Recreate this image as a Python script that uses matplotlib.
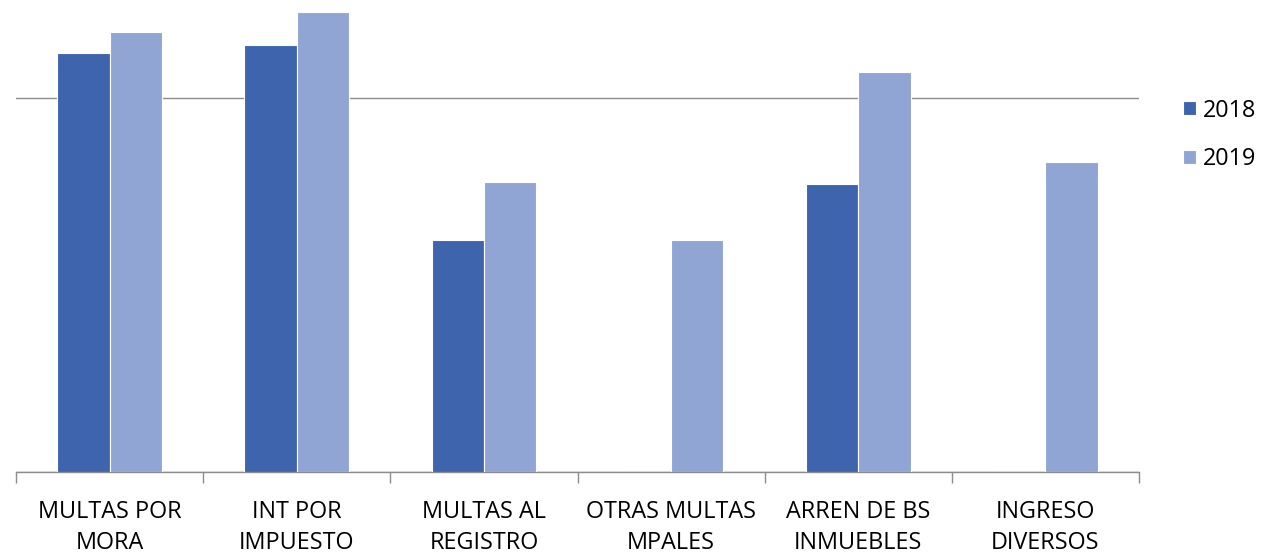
import numpy as np
import matplotlib.pyplot as plt

# values (gridline = 100)
categories = ['MULTAS POR\nMORA', 'INT POR\nIMPUESTO', 'MULTAS AL\nREGISTRO',
              'OTRAS MULTAS\nMPALES', 'ARREN DE BS\nINMUEBLES', 'INGRESO\nDIVERSOS']
values_2018 = [112.0, 114.2, 62.0, 0.0, 77.0, 0.0]
values_2019 = [117.6, 123.0, 77.5, 62.0, 107.0, 82.9]

plt.rcParams['font.family'] = ['Open Sans', 'DejaVu Sans']

fig = plt.figure(figsize=(12.63, 5.55), dpi=100)
ax = fig.add_axes([16 / 1263, 83 / 555, 1123 / 1263, 472 / 555])

x = np.arange(len(categories))
w = 0.28
ax.bar(x - w / 2, values_2018, w, color='#3D64AD', edgecolor='white', linewidth=0.8, label='2018', zorder=3)
ax.bar(x + w / 2, values_2019, w, color='#91A5D5', edgecolor='white', linewidth=0.8, label='2019', zorder=3)

ax.set_xlim(-0.5, len(categories) - 0.5)
ax.set_ylim(0, 126.2)
ax.set_yticks([0, 100])
ax.yaxis.grid(True, color='#8C8C8C', linewidth=1.0, zorder=0)
ax.tick_params(axis='y', left=False, labelleft=False)

ax.set_xticks(x)
ax.set_xticklabels(categories, fontsize=16.8, linespacing=1.42)
ax.tick_params(axis='x', which='major', length=0, pad=20)
ax.set_xticks(np.arange(-0.5, len(categories)), minor=True)
ax.tick_params(axis='x', which='minor', length=8, color='#8C8C8C', width=1)

for s in ['top', 'right', 'left']:
    ax.spines[s].set_visible(False)
ax.spines['bottom'].set_color('#8C8C8C')
ax.spines['bottom'].set_linewidth(1.0)

ax.legend(loc='center left', bbox_to_anchor=(1183 / 1263, 1 - 135 / 555),
          bbox_transform=fig.transFigure, frameon=False, fontsize=16.8,
          borderpad=0, borderaxespad=0,
          handlelength=0.56, handleheight=0.56, handletextpad=0.3, labelspacing=1.06)

fig.savefig('out.png', dpi=100)
